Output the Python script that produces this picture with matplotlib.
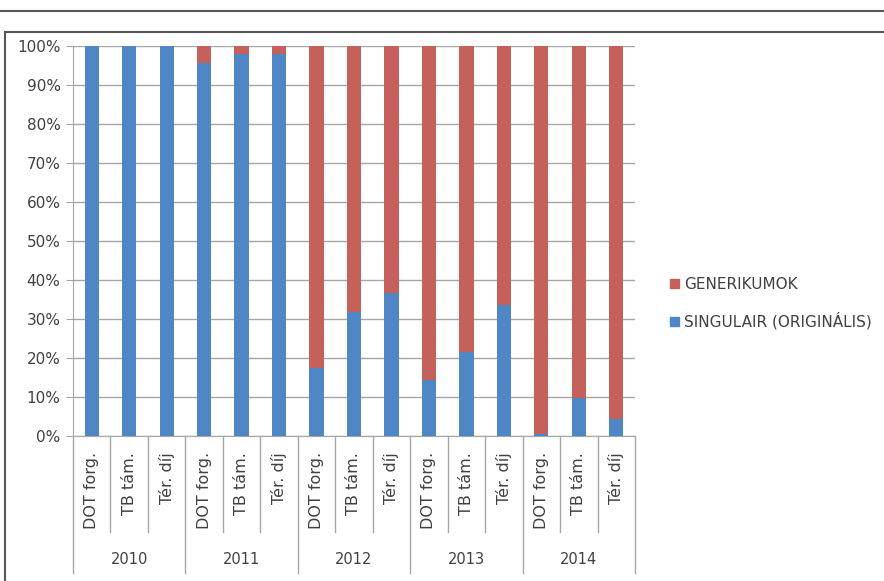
import matplotlib
matplotlib.use("Agg")
import matplotlib.pyplot as plt
from matplotlib.lines import Line2D
from matplotlib.patches import Patch
import matplotlib.transforms as mtransforms

plt.rcParams['font.family'] = ['DejaVu Sans']

years = ["2010", "2011", "2012", "2013", "2014"]
subcats = ["DOT forg.", "TB tám.", "Tér. díj"]
singulair = [100, 100, 100,
             95.5, 97.8, 97.8,
             17.4, 31.8, 36.5,
             14.3, 21.5, 33.5,
             0.4, 9.6, 4.2]
generikumok = [100 - v for v in singulair]

BLUE = "#4F86C6"
RED = "#C5605A"
GRID = "#A6A6A6"
TXT = "#404040"

W, H = 884, 581
fig = plt.figure(figsize=(W / 100, H / 100), dpi=100)

# page frame lines
fig.add_artist(Line2D([0, 1], [1 - 11 / H, 1 - 11 / H], color="#555555", lw=1.5))
fig.add_artist(Line2D([5 / W, 1.01], [1 - 32 / H, 1 - 32 / H], color="#555555", lw=1.5))
fig.add_artist(Line2D([5 / W, 5 / W], [1 - 32 / H, -0.01], color="#555555", lw=1.5))

x0, x1 = 73, 635
y0, y1 = 435.5, 45.7
ax = fig.add_axes([x0 / W, 1 - y0 / H, (x1 - x0) / W, (y0 - y1) / H])

n = len(singulair)
xs = list(range(n))
bw = 0.38
ax.bar(xs, singulair, width=bw, color=BLUE, zorder=3, label="SINGULAIR (ORIGINÁLIS)")
ax.bar(xs, generikumok, width=bw, bottom=singulair, color=RED, zorder=3, label="GENERIKUMOK")

ax.set_xlim(-0.5, n - 0.5)
ax.set_ylim(0, 100)
ax.set_yticks(range(0, 101, 10))
ax.set_yticklabels([f"{v}%" for v in range(0, 101, 10)], fontsize=11, color=TXT)
ax.yaxis.grid(True, color=GRID, lw=1, zorder=0)
ax.tick_params(axis='y', length=5, color=GRID, pad=4)
ax.set_xticks([])
for s in ["top", "right"]:
    ax.spines[s].set_visible(False)
ax.spines["left"].set_color(GRID)
ax.spines["bottom"].set_color(GRID)

# category axis: separators, rotated labels, year labels
trans = mtransforms.blended_transform_factory(ax.transData, ax.transAxes)
short_y = (y0 - 532) / (y0 - y1)
long_y = (y0 - 573) / (y0 - y1)
for i in range(n + 1):
    yb = long_y if i % 3 == 0 else short_y
    ax.add_artist(Line2D([i - 0.5, i - 0.5], [0, yb], transform=trans,
                         color=GRID, lw=1, clip_on=False))
lab_y = (y0 - 452) / (y0 - y1)
for i in range(n):
    ax.text(i, lab_y, subcats[i % 3], rotation=90, ha="center", va="top",
            transform=trans, fontsize=11.5, color=TXT)
year_y = (y0 - 560) / (y0 - y1)
for k, yr in enumerate(years):
    ax.text(3 * k + 1, year_y, yr, ha="center", va="center",
            transform=trans, fontsize=10.5, color=TXT)

handles = [Patch(color=RED), Patch(color=BLUE)]
fig.legend(handles, ["GENERIKUMOK", "SINGULAIR (ORIGINÁLIS)"],
           loc="upper left", bbox_to_anchor=(656 / W, 1 - 263 / H),
           frameon=False, fontsize=11, handlelength=0.6, handleheight=0.6,
           handletextpad=0.35, labelspacing=1.35, labelcolor=TXT)

fig.savefig("out.png", dpi=100)
